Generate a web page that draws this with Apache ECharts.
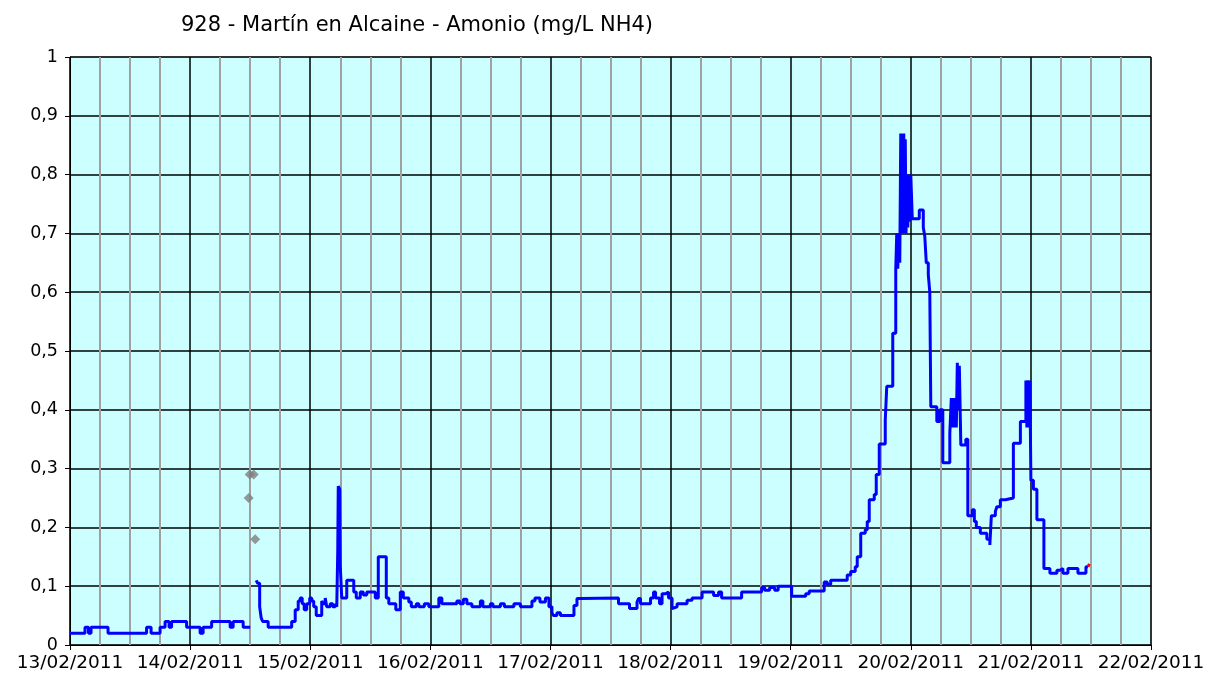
<!DOCTYPE html>
<html>
<head>
<meta charset="utf-8">
<title>928 - Martín en Alcaine - Amonio</title>
<script src="https://cdn.jsdelivr.net/npm/echarts@6/dist/echarts.min.js"></script>
<style>
  html, body { margin: 0; padding: 0; background: #fff; }
  #chart { width: 1209px; height: 679px; }
</style>
</head>
<body>
<div id="chart"></div>
<script>
// horas desde el 13/02/2011 00:00
const horas = [
  0, 3, 3.7, 4.2, 7.6, 15.3, 16.2, 18, 19, 19.8, 20.3, 23.3, 26, 26.6, 28.3, 32, 32.6, 34.6, 35.4, 36,
  37.2, 37.5, 37.9, 38.2, 38.5, 39.6, 44.3, 45, 45.6, 46, 46.4, 46.8, 47.3, 47.9, 48.3, 48.7, 49.2,
  50.3, 50.6, 51, 51.3, 52, 52.5, 53, 53.3, 53.5, 53.6, 53.9, 54, 54.3, 55.3, 56.7, 57.2, 58, 58.6,
  59.3, 61, 61.6, 63.2, 63.7, 65.1, 66, 66.6, 67.7, 68.2, 69.2, 69.7, 70.8, 71.7, 73.7, 74.3, 77.3,
  77.9, 78.6, 79.3, 80.3, 82, 82.5, 84, 84.5, 86, 86.8, 88.7, 90, 92.3, 92.9, 93.9, 95, 95.7, 96.3,
  96.6, 97.3, 98, 100.7, 101.3, 102, 109.6, 111.8, 113.3, 113.6, 114, 116, 116.6, 117, 117.8, 118.3,
  119, 119.6, 120.3, 120.6, 121.3, 123.3, 124.3, 126.3, 128.6, 129.6, 130.2, 134.2, 138.2, 138.8,
  139.8, 140.8, 141.5, 144.2, 147, 147.7, 150.7, 151.3, 152, 155.3, 156, 156.9, 157.3, 158, 158.9,
  159.3, 159.7, 160.7, 161.1, 161.7, 162.9, 163.2, 164.4, 165, 165.2, 165.4, 165.6, 165.8, 166,
  166.15, 166.3, 166.45, 166.6, 166.75, 166.9, 167.05, 167.2, 167.4, 167.6, 167.8, 168, 168.3, 169.7,
  170.5, 170.8, 171.1, 171.5, 171.8, 172, 173.2, 173.8, 174.4, 175.8, 176.1, 176.3, 176.5, 176.7,
  176.9, 177.1, 177.3, 177.5, 177.7, 178, 179, 179.4, 180.3, 180.7, 181.1, 181.9, 183.2, 183.8,
  184.1, 184.9, 185.2, 185.9, 186.9, 188.5, 189.9, 191, 191.2, 191.4, 191.6, 191.8, 192, 192.5,
  193.2, 194.6, 195.8, 197.2, 197.8, 198.4, 199.4, 201.4, 203, 203.4
];
const amonio = [
  0.02, 0.03, 0.02, 0.03, 0.02, 0.03, 0.02, 0.03, 0.04, 0.03, 0.04, 0.03, 0.02, 0.03, 0.04, 0.03, 0.04, 0.03, 0.03, null,
  0.11, 0.105, 0.065, 0.046, 0.04, 0.03, 0.04, 0.06, 0.075, 0.08, 0.07, 0.06, 0.07, 0.08, 0.075, 0.065, 0.05,
  0.075, 0.07, 0.08, 0.065, 0.07, 0.065, 0.07, 0.065, 0.16, 0.27, 0.265, 0.135, 0.08, 0.11, 0.09, 0.08, 0.09, 0.085,
  0.09, 0.08, 0.15, 0.08, 0.07, 0.06, 0.09, 0.08, 0.073, 0.065, 0.07, 0.065, 0.07, 0.065, 0.08, 0.07, 0.075,
  0.07, 0.078, 0.07, 0.065, 0.075, 0.065, 0.07, 0.065, 0.07, 0.065, 0.07, 0.065, 0.075, 0.08, 0.073, 0.08, 0.065, 0.055,
  0.05, 0.055, 0.05, 0.067, 0.079, 0.08, 0.07, 0.062, 0.073, 0.079, 0.07, 0.08, 0.09, 0.08, 0.07, 0.087,
  0.09, 0.08, 0.062, 0.065, 0.07, 0.076, 0.08, 0.09, 0.084, 0.09, 0.08, 0.09, 0.098, 0.093,
  0.098, 0.093, 0.1, 0.083, 0.087, 0.092, 0.107, 0.103, 0.11, 0.119, 0.125, 0.133, 0.15, 0.19, 0.196,
  0.21, 0.247, 0.256, 0.29, 0.342, 0.382, 0.44, 0.53, 0.64, 0.7, 0.64, 0.7, 0.65, 0.87,
  0.7, 0.87, 0.71, 0.87, 0.7, 0.86, 0.7, 0.8, 0.71, 0.8, 0.72, 0.8, 0.725, 0.74,
  0.71, 0.695, 0.65, 0.63, 0.6, 0.405, 0.38, 0.4, 0.31, 0.36, 0.42, 0.37, 0.42, 0.37,
  0.42, 0.37, 0.48, 0.4, 0.475, 0.34, 0.35, 0.22, 0.23, 0.21, 0.2, 0.19, 0.18, 0.17,
  0.22, 0.227, 0.235, 0.247, 0.25, 0.343, 0.38, 0.45, 0.37, 0.45, 0.37, 0.45, 0.28, 0.265,
  0.213, 0.13, 0.122, 0.127, 0.13, 0.122, 0.13, 0.122, 0.133, 0.133
];
// puntos sueltos en gris
const horasGris = [35.7, 35.9, 36.7, 37.0];
const valoresGris = [0.25, 0.29, 0.29, 0.18];
// ultimo dato (rojo)
const horasRojo = [203.4, 203.7];
const valoresRojo = [0.133, 0.138];

const etiquetasX = ['13/02/2011', '14/02/2011', '15/02/2011', '16/02/2011', '17/02/2011',
  '18/02/2011', '19/02/2011', '20/02/2011', '21/02/2011', '22/02/2011'];

const fuente = 'DejaVu Sans';

const chart = echarts.init(document.getElementById('chart'));
chart.setOption({
  animation: false,
  title: {
    text: '928 - Martín en Alcaine - Amonio (mg/L NH4)',
    left: 176,
    top: 10,
    textStyle: { fontFamily: fuente, fontSize: 21, fontWeight: 'normal', color: '#000' }
  },
  grid: {
    left: 70, right: 58, top: 57, bottom: 34,
    show: true,
    backgroundColor: '#CCFFFF',
    borderColor: '#999',
    borderWidth: 1
  },
  xAxis: {
    type: 'value',
    min: 0,
    max: 216,
    interval: 24,
    axisLine: { lineStyle: { color: '#000', width: 1 } },
    axisTick: { show: true, length: 5, lineStyle: { color: '#000' } },
    axisLabel: {
      fontFamily: fuente, fontSize: 18.5, color: '#000', margin: 9,
      formatter: v => etiquetasX[Math.round(v / 24)]
    },
    splitLine: { show: true, lineStyle: { color: '#000', width: 1.5 } },
    minorTick: { show: false, splitNumber: 4 },
    minorSplitLine: { show: true, lineStyle: { color: '#A0A0A0', width: 2 } }
  },
  yAxis: {
    type: 'value',
    min: 0,
    max: 1,
    interval: 0.1,
    axisLine: { show: true, lineStyle: { color: '#000', width: 1 } },
    axisTick: { show: true, length: 5, lineStyle: { color: '#000' } },
    axisLabel: {
      fontFamily: fuente, fontSize: 17.5, color: '#000', margin: 12,
      formatter: v => (v === 0 ? '0' : v === 1 ? '1' : v.toFixed(1).replace('.', ','))
    },
    splitLine: { show: true, lineStyle: { color: '#000', width: 1.5 } }
  },
  series: [
    {
      name: 'Amonio',
      type: 'line',
      step: 'end',
      showSymbol: false,
      connectNulls: false,
      lineStyle: { color: '#0000FF', width: 3 },
      data: horas.map((h, i) => [h, amonio[i]]),
      z: 3
    },
    {
      name: 'Gris',
      type: 'scatter',
      symbol: 'diamond',
      symbolSize: 10,
      itemStyle: { color: '#808080' },
      data: horasGris.map((h, i) => [h, valoresGris[i]]),
      z: 4
    },
    {
      name: 'Rojo',
      type: 'line',
      showSymbol: false,
      lineStyle: { color: '#FF0000', width: 3 },
      data: horasRojo.map((h, i) => [h, valoresRojo[i]]),
      z: 5
    }
  ]
});
</script>
</body>
</html>
